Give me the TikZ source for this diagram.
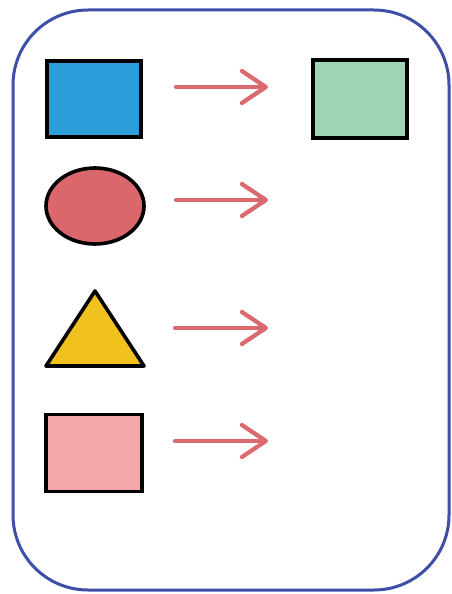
\documentclass[tikz,border=0pt]{standalone}
\usepackage{tikz}
\usetikzlibrary{arrows.meta,shapes.geometric}
\definecolor{framecol}{HTML}{3F4FA8}
\definecolor{bluefill}{HTML}{2C9FDB}
\definecolor{greenfill}{HTML}{9FD5B6}
\definecolor{redfill}{HTML}{D9676B}
\definecolor{yellowfill}{HTML}{F1C21E}
\definecolor{pinkfill}{HTML}{F4A6AA}
\definecolor{arrowcol}{HTML}{DB6A6E}
\tikzset{
  shapebox/.style={draw=black, line width=3.6pt, inner sep=0pt},
  arr/.style={draw=arrowcol, line width=4.2pt, line cap=round,
    -{Straight Barb[length=24pt,width=32pt,line cap=round,round]}},
}
\begin{document}
\begin{tikzpicture}[x=1pt,y=-1pt]
\useasboundingbox (0,0) rectangle (452,594);
\fill[white] (0,0) rectangle (452,594);
\draw[framecol, line width=3pt, rounded corners=75pt] (13,10) rectangle (449,590);
\node[shapebox, fill=bluefill, minimum width=94pt, minimum height=76pt] (blue) at (94,99) {};
\node[shapebox, fill=greenfill, minimum width=94pt, minimum height=78pt] (green) at (360,99) {};
\node[shapebox, ellipse, fill=redfill, minimum width=98pt, minimum height=76pt] (ell) at (95,206) {};
\node[shapebox, fill=pinkfill, minimum width=96pt, minimum height=77pt] (pink) at (94,453) {};
\coordinate (t1) at (95,291);
\coordinate (t2) at (46,366);
\coordinate (t3) at (144,366);
\draw[black, line width=3.6pt, line join=round, fill=yellowfill] (t1) -- (t2) -- (t3) -- cycle;
\coordinate (a1s) at (176,87);  \coordinate (a1e) at (268,87);
\coordinate (a2s) at (176,200); \coordinate (a2e) at (268,200);
\coordinate (a3s) at (175,328); \coordinate (a3e) at (268,328);
\coordinate (a4s) at (175,441); \coordinate (a4e) at (268,441);
\draw[arr] (a1s) -- (a1e);
\draw[arr] (a2s) -- (a2e);
\draw[arr] (a3s) -- (a3e);
\draw[arr] (a4s) -- (a4e);
\end{tikzpicture}
\end{document}
